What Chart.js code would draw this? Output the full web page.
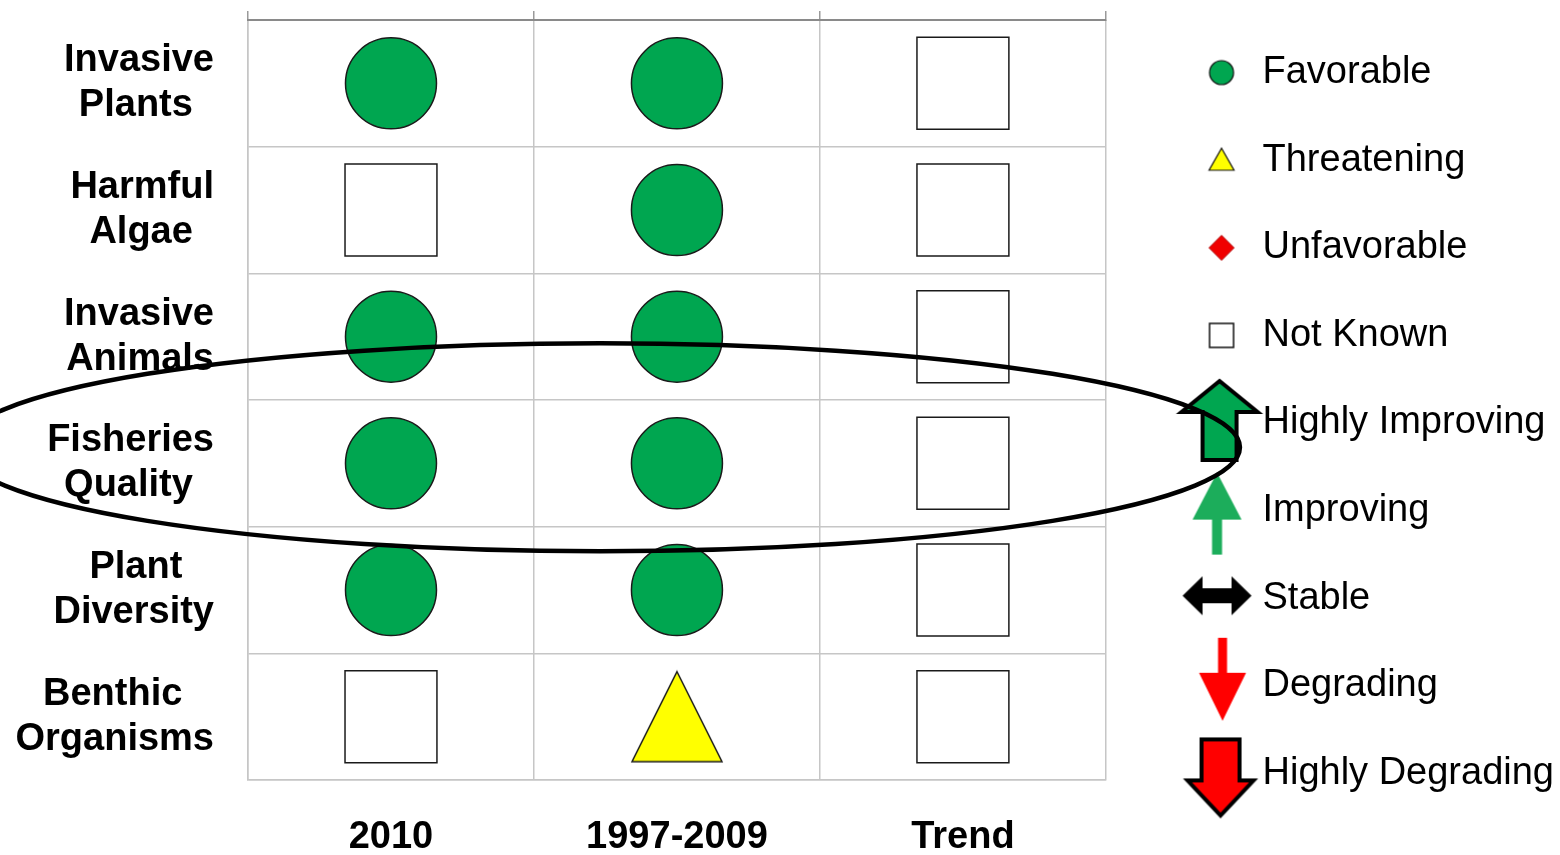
<!DOCTYPE html>
<html>
<head>
<meta charset="utf-8">
<title>Indicator status</title>
<script src="https://cdn.jsdelivr.net/npm/chart.js@4.4.1/dist/chart.umd.min.js"></script>
<style>
  html, body { margin: 0; padding: 0; background: #fff; }
  canvas { display: block; }
</style>
</head>
<body>
<canvas id="status" width="1560" height="855"></canvas>
<script>
// data
const columns = ['2010', '1997-2009', 'Trend']
const indicators = ['Invasive Plants', 'Harmful Algae', 'Invasive Animals', 'Fisheries Quality', 'Plant Diversity', 'Benthic Organisms']
const status2010 = ['Favorable', 'Not Known', 'Favorable', 'Favorable', 'Favorable', 'Not Known']
const status1997to2009 = ['Favorable', 'Favorable', 'Favorable', 'Favorable', 'Favorable', 'Threatening']
const statusTrend = ['Not Known', 'Not Known', 'Not Known', 'Not Known', 'Not Known', 'Not Known']
const legendLabels = ['Favorable', 'Threatening', 'Unfavorable', 'Not Known', 'Highly Improving', 'Improving', 'Stable', 'Degrading', 'Highly Degrading']
const highlighted = 'Fisheries Quality'

const FONT = '"Liberation Sans", Arial, Helvetica, sans-serif'
const GREEN = '#00a650'
const GRID = '#c6c6c6'

// draws a shape into a small canvas, used as a pointStyle image
const makeIcon = (w, h, dx, draw) => {
    const c = document.createElement('canvas')
    c.width = w
    c.height = h
    const ctx = c.getContext('2d')
    ctx.translate(w / 2 + dx, h / 2)
    ctx.lineJoin = 'miter'
    draw(ctx)
    return c
}
const poly = (ctx, pts, fill, stroke, lw) => {
    ctx.beginPath()
    pts.forEach(([px, py], i) => i ? ctx.lineTo(px, py) : ctx.moveTo(px, py))
    ctx.closePath()
    ctx.fillStyle = fill
    ctx.fill()
    if (stroke) {
        ctx.lineWidth = lw
        ctx.strokeStyle = stroke
        ctx.stroke()
    }
}

const bigTriangle = makeIcon(96, 96, 0, (ctx) => {
    poly(ctx, [[0, -45], [45, 45], [-45, 45]], '#ffff00', '#1a1a1a', 1.5)
})

const markerStyle = {
    'Favorable': {pointStyle: 'circle', radius: 45.5, color: GREEN},
    'Not Known': {pointStyle: 'rect', radius: 65, color: '#ffffff'},
    'Threatening': {pointStyle: bigTriangle, radius: 46, color: '#ffff00'},
}

// legend icons, shifted right inside the image so they sit closer to the text
const SHIFT = 20
const legendIcons = {
    'Favorable': makeIcon(150, 110, SHIFT + 2, (ctx) => {
        ctx.beginPath()
        ctx.arc(0, 0, 12, 0, Math.PI * 2)
        ctx.fillStyle = GREEN
        ctx.fill()
        ctx.lineWidth = 1.2
        ctx.strokeStyle = '#111'
        ctx.stroke()
    }),
    'Threatening': makeIcon(150, 110, SHIFT + 2, (ctx) => {
        poly(ctx, [[0, -12], [12.5, 10], [-12.5, 10]], '#ffff00', '#111', 1.2)
    }),
    'Unfavorable': makeIcon(150, 110, SHIFT + 2, (ctx) => {
        poly(ctx, [[0, -12.5], [12.5, 0], [0, 12.5], [-12.5, 0]], '#f00000', '#b00000', 1)
    }),
    'Not Known': makeIcon(150, 110, SHIFT + 2, (ctx) => {
        poly(ctx, [[-12, -12], [12, -12], [12, 12], [-12, 12]], '#ffffff', '#111', 1.5)
    }),
    'Highly Improving': makeIcon(150, 110, SHIFT, (ctx) => {
        poly(ctx, [[0, -42], [38, -11], [17, -11], [17, 37], [-17, 37], [-17, -11], [-38, -11]], GREEN, '#000', 4)
    }),
    'Improving': makeIcon(150, 110, SHIFT - 2.5, (ctx) => {
        poly(ctx, [[0, -38], [24.5, 9], [5, 9], [5, 44], [-5, 44], [-5, 9], [-24.5, 9]], '#1cad5b')
    }),
    'Stable': makeIcon(150, 110, SHIFT - 2.5, (ctx) => {
        ctx.translate(0, -2.5)
        poly(ctx, [[-34.5, 0], [-14.5, -19.5], [-14.5, -7.5], [14.5, -7.5], [14.5, -19.5], [34.5, 0],
            [14.5, 19.5], [14.5, 7.5], [-14.5, 7.5], [-14.5, 19.5]], '#000')
    }),
    'Degrading': makeIcon(150, 110, SHIFT + 3, (ctx) => {
        poly(ctx, [[-4.5, -48], [4.5, -48], [4.5, -13], [23.5, -13], [0, 35], [-23.5, -13], [-4.5, -13]], '#ff0000')
    }),
    'Highly Degrading': makeIcon(150, 110, SHIFT + 1, (ctx) => {
        poly(ctx, [[-19, -34], [19, -34], [19, 7], [33, 7], [0, 42], [-33, 7], [-19, 7]], '#ff0000', '#000', 4)
    }),
}

// two-line row labels, shorter line padded so both lines centre on each other
let measureCtx
const centreLines = (label) => {
    const lines = label.split(' ')
    measureCtx = measureCtx || document.createElement('canvas').getContext('2d')
    measureCtx.font = 'bold 38px ' + FONT
    const widths = lines.map((l) => measureCtx.measureText(l).width)
    const widest = Math.max(...widths)
    const space = measureCtx.measureText(' ').width
    return lines.map((l, i) => l + ' '.repeat(Math.round((widest - widths[i]) / 2 / space)))
}

const makeDataset = (column, statuses) => ({
    label: column,
    data: indicators.map((name) => ({x: column, y: name})),
    pointStyle: (ctx) => markerStyle[statuses[ctx.dataIndex]].pointStyle,
    pointRadius: (ctx) => markerStyle[statuses[ctx.dataIndex]].radius,
    pointBackgroundColor: (ctx) => markerStyle[statuses[ctx.dataIndex]].color,
    pointBorderColor: '#1a1a1a',
    pointBorderWidth: 1.5,
})

const highlightRing = {
    id: 'highlightRing',
    afterDraw(chart) {
        const {ctx, scales: {x, y}} = chart
        const cx = x.getPixelForValue(1) - 77
        const cy = y.getPixelForValue(indicators.indexOf(highlighted)) - 16
        ctx.save()
        ctx.beginPath()
        ctx.ellipse(cx, cy, 640, 104, 0, 0, Math.PI * 2)
        ctx.lineWidth = 4.5
        ctx.strokeStyle = '#000'
        ctx.stroke()
        ctx.restore()
    }
}

const statusChart = new Chart(document.getElementById('status').getContext('2d'), {
    type: 'scatter',
    data: {
        datasets: [
            makeDataset(columns[0], status2010),
            makeDataset(columns[1], status1997to2009),
            makeDataset(columns[2], statusTrend),
        ],
    },
    options: {
        responsive: false,
        animation: false,
        devicePixelRatio: 1,
        events: [],
        layout: {autoPadding: false, padding: {left: 0, top: 4, right: -4, bottom: 0}},
        font: {family: FONT},
        scales: {
            x: {
                type: 'category',
                labels: columns,
                position: 'bottom',
                offset: true,
                grid: {offset: true, color: GRID, lineWidth: 1.5, drawTicks: false},
                border: {color: GRID, width: 1.5},
                ticks: {padding: 35, color: '#000', maxRotation: 0, autoSkip: false,
                    font: {family: FONT, size: 38, weight: 'bold'}},
                afterFit: (scale) => {
                    scale.height = 75
                    scale.paddingLeft = scale.paddingRight = 0
                },
            },
            x2: {
                type: 'category',
                labels: columns,
                position: 'top',
                offset: true,
                grid: {offset: true, drawOnChartArea: false, tickLength: 9, color: '#9a9a9a', lineWidth: 1.5},
                border: {color: '#8a8a8a', width: 2, z: 1},
                ticks: {display: false},
                afterFit: (scale) => {
                    scale.height = 16
                    scale.paddingLeft = scale.paddingRight = 0
                },
            },
            y: {
                type: 'category',
                labels: indicators,
                offset: true,
                grid: {offset: true, color: GRID, lineWidth: 1.5, drawTicks: false},
                border: {color: GRID, width: 1.5},
                ticks: {
                    padding: 34,
                    color: '#000',
                    autoSkip: false,
                    font: {family: FONT, size: 38, weight: 'bold', lineHeight: 1.18},
                    callback(value) {
                        return centreLines(this.getLabelForValue(value))
                    },
                },
                afterFit: (scale) => {
                    scale.width = 248
                    scale.paddingTop = scale.paddingBottom = 0
                },
            },
        },
        plugins: {
            tooltip: {enabled: false},
            legend: {
                position: 'right',
                align: 'start',
                maxWidth: 480,
                labels: {
                    usePointStyle: true,
                    pointStyleWidth: 88,
                    padding: 49.6,
                    color: '#000',
                    font: {family: FONT, size: 38},
                    generateLabels: () => legendLabels.map((text) => ({
                        text,
                        pointStyle: legendIcons[text],
                        fillStyle: '#fff',
                        strokeStyle: '#fff',
                        lineWidth: 0,
                        hidden: false,
                        fontColor: '#000',
                    })),
                },
            },
        },
    },
    plugins: [highlightRing],
})
</script>
</body>
</html>
